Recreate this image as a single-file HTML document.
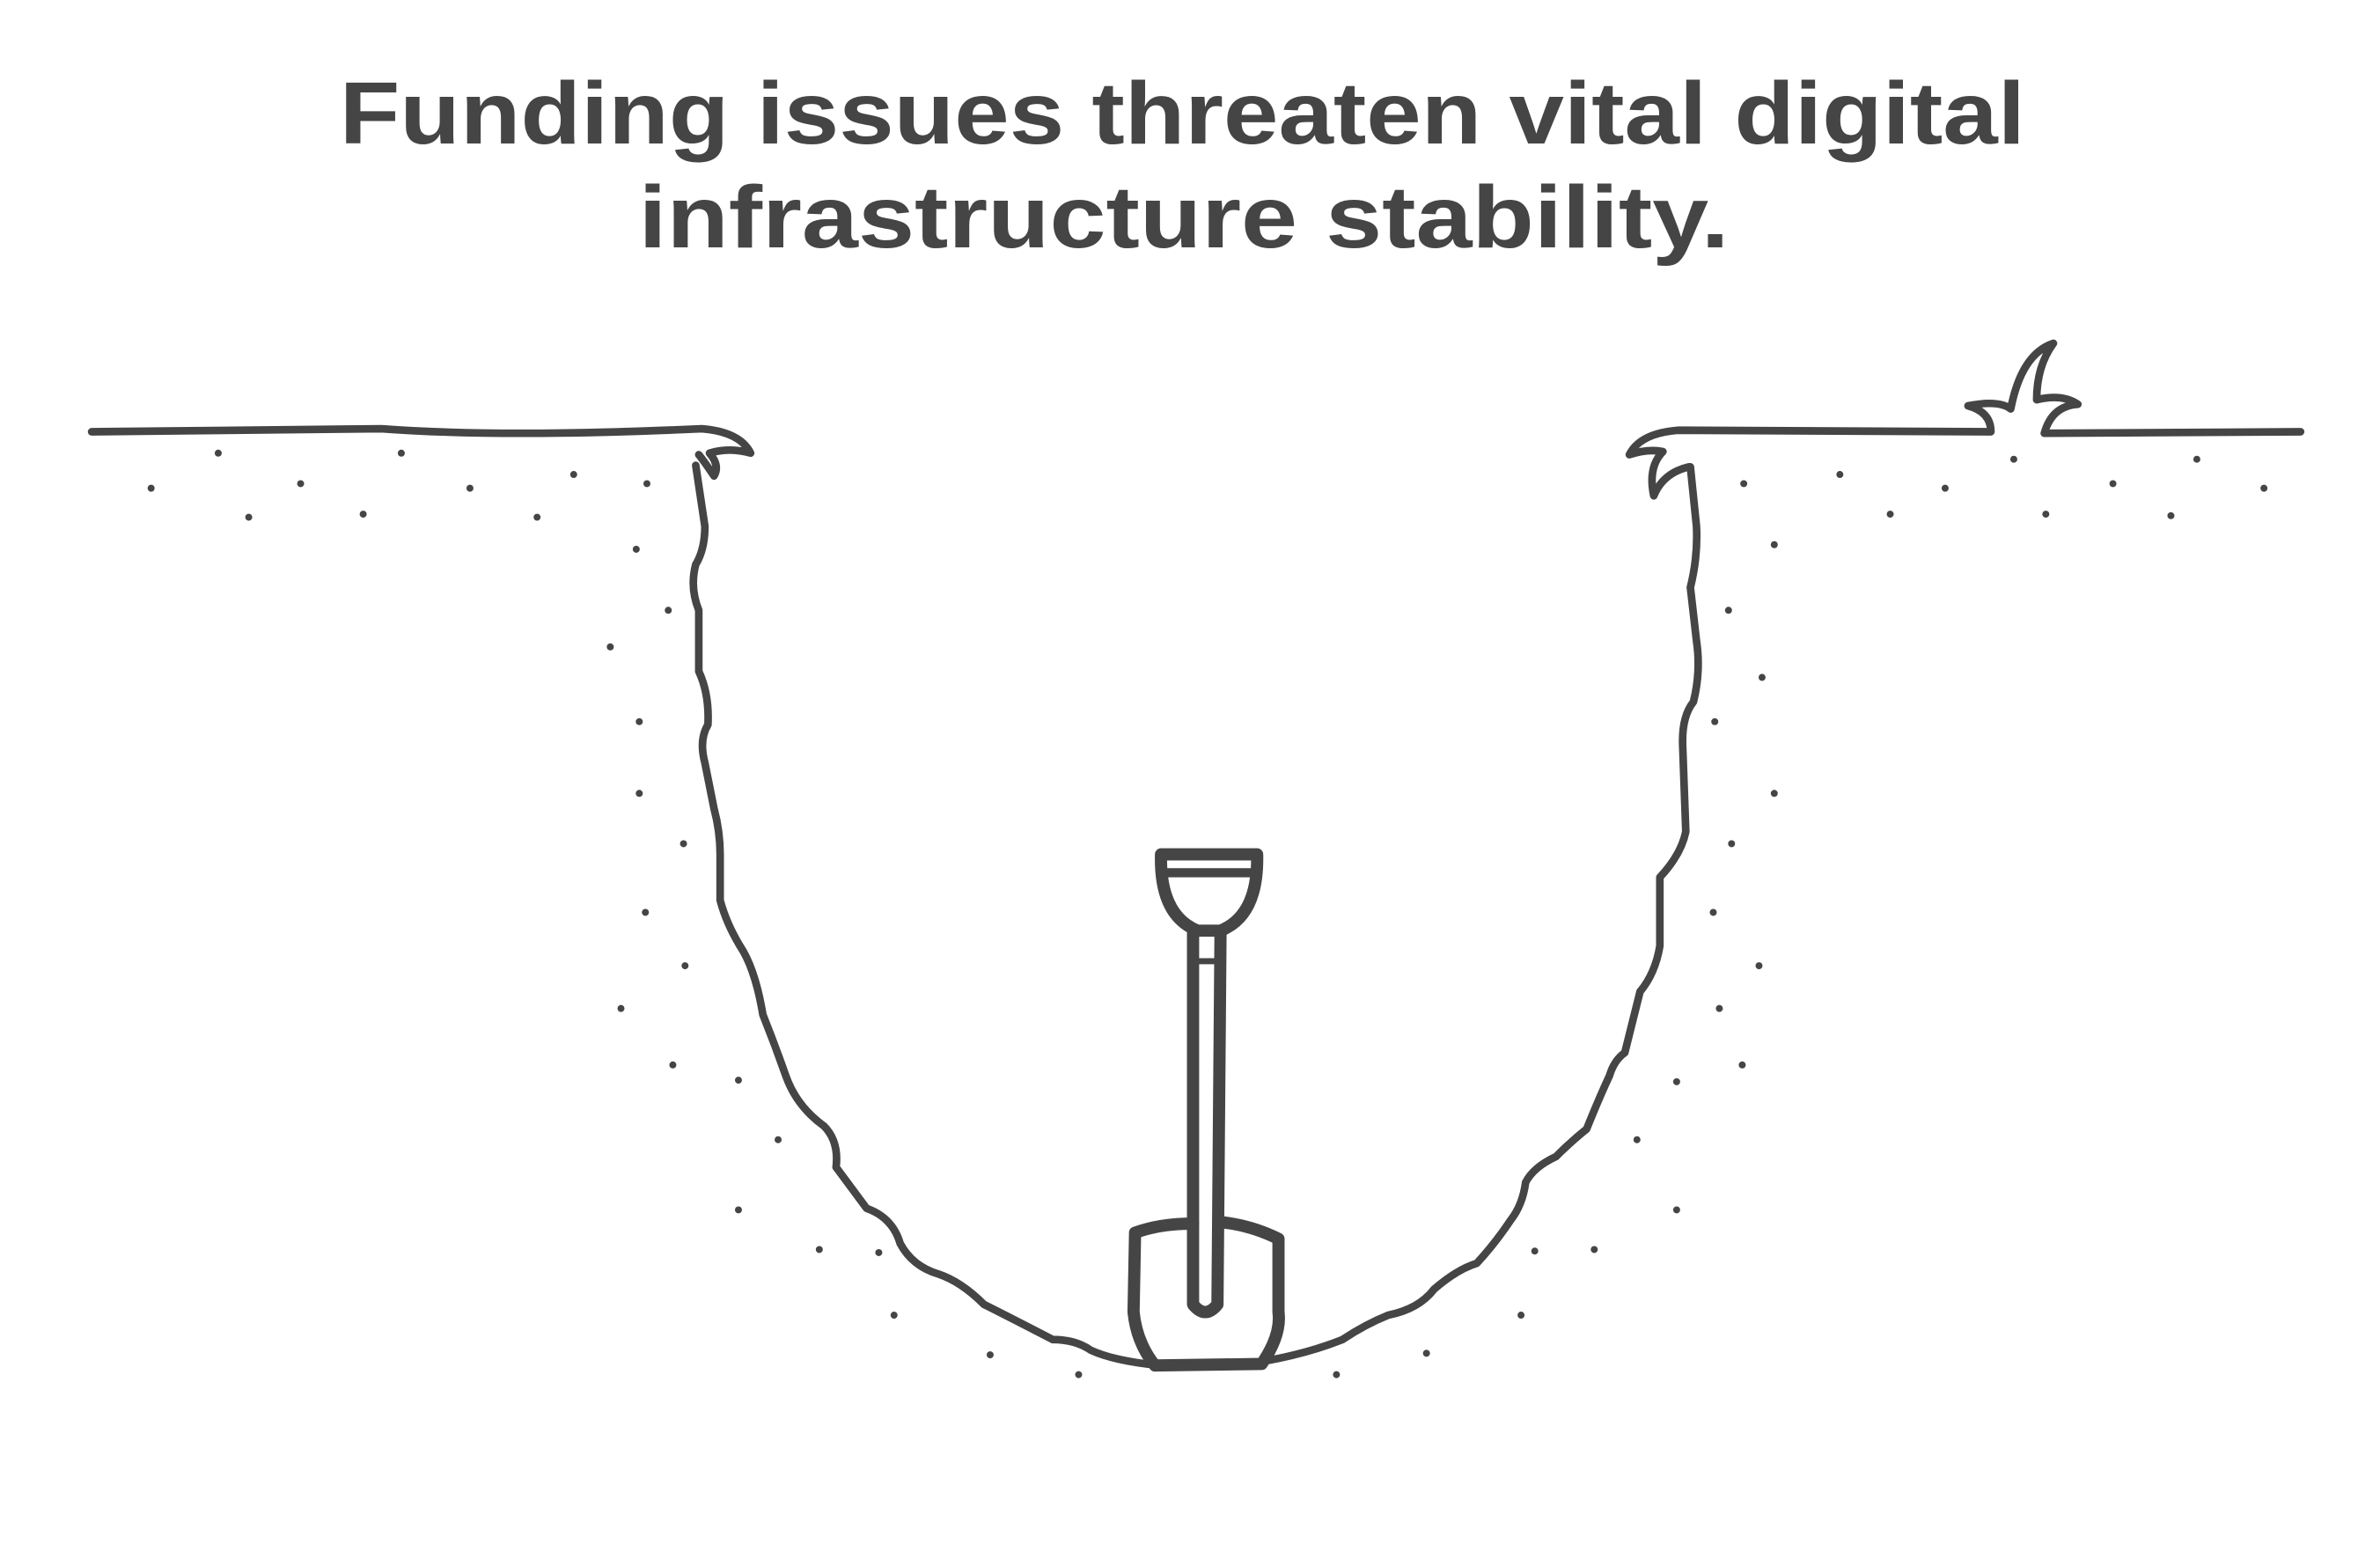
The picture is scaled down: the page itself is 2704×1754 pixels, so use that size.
<!DOCTYPE html>
<html><head><meta charset="utf-8"><style>
html,body{margin:0;padding:0;background:#fff;}
svg{display:block;}
</style></head><body>
<svg width="2704" height="1754" viewBox="0 0 1560 1012" xmlns="http://www.w3.org/2000/svg">
<rect width="1560" height="1012" fill="#fff"/>
<g font-family="Liberation Sans, sans-serif" font-weight="bold" font-size="58" fill="#454545" text-anchor="middle">
<text x="775" y="94" textLength="1105" lengthAdjust="spacingAndGlyphs">Funding issues threaten vital digital</text>
<text x="776" y="162" textLength="715" lengthAdjust="spacingAndGlyphs">infrastructure stability.</text>
</g>
<g fill="none" stroke="#454545" stroke-width="5" stroke-linecap="round" stroke-linejoin="round">
<path d="M60 283 L250 281 Q330 287 460 281 Q485 283 492 297 Q478 293 465 297 Q472 305 468 312 Q462 303 458 298"/>
<path d="M1508 283 L1340 284 Q1345 266 1362 265 Q1352 258 1335 262 Q1335 240 1346 225 Q1325 232 1318 268 Q1310 262 1290 266 Q1305 270 1305 283 L1100 282 Q1075 284 1068 298 Q1080 294 1090 296 Q1080 306 1084 325 Q1090 310 1107 306"/>
<path d="M456 305 L462 345 Q462 360 456 370 Q452 385 458 400 L458 440 Q465 455 464 475 Q458 485 462 500 L468 530 Q472 545 472 560 L472 590 Q476 605 485 620 Q495 635 500 665 Q508 685 515 705 Q522 725 540 738 Q550 748 548 765 L568 792 Q585 798 590 815 Q598 830 615 835 Q630 840 645 855 Q665 865 690 878 Q705 878 715 885 Q730 892 760 895 L810 895 Q850 890 880 878 Q895 868 910 862 Q930 858 940 845 Q955 832 968 828 Q980 815 990 800 Q998 790 1000 775 Q1005 765 1020 758 Q1030 748 1040 740 Q1048 720 1055 705 Q1058 695 1065 690 Q1070 670 1075 650 Q1085 638 1088 620 L1088 575 Q1102 560 1105 545 L1103 490 Q1102 470 1110 460 Q1115 440 1112 420 L1108 385 Q1113 365 1112 345 L1108 306"/>
<g stroke-width="8">
<path d="M761 560 L824 560 Q825 600 800 610 L785 610 Q760 600 761 560 Z"/>
<path d="M765 572 L820 572" stroke-width="6"/>
<path d="M782 612 L782 855 Q790 865 798 855 L800 612"/>
<path d="M785 630 L797 630" stroke-width="4"/>
<path d="M782 802 Q760 802 744 808 L743 860 Q745 880 757 895 L827 894 Q840 875 838 860 L838 812 Q820 803 800 801"/>
</g>
</g>
<g fill="#454545">
<circle cx="143" cy="297" r="2.3"/><circle cx="263" cy="297" r="2.3"/><circle cx="99" cy="320" r="2.3"/><circle cx="197" cy="317" r="2.3"/><circle cx="308" cy="320" r="2.3"/><circle cx="376" cy="311" r="2.3"/><circle cx="424" cy="317" r="2.3"/><circle cx="163" cy="339" r="2.3"/><circle cx="238" cy="337" r="2.3"/><circle cx="352" cy="339" r="2.3"/><circle cx="417" cy="360" r="2.3"/><circle cx="438" cy="400" r="2.3"/><circle cx="400" cy="424" r="2.3"/><circle cx="419" cy="473" r="2.3"/><circle cx="419" cy="520" r="2.3"/><circle cx="448" cy="553" r="2.3"/><circle cx="423" cy="598" r="2.3"/><circle cx="449" cy="633" r="2.3"/><circle cx="407" cy="661" r="2.3"/><circle cx="441" cy="698" r="2.3"/><circle cx="484" cy="708" r="2.3"/><circle cx="510" cy="747" r="2.3"/><circle cx="484" cy="793" r="2.3"/><circle cx="537" cy="819" r="2.3"/><circle cx="576" cy="821" r="2.3"/><circle cx="586" cy="862" r="2.3"/><circle cx="649" cy="888" r="2.3"/><circle cx="707" cy="901" r="2.3"/><circle cx="876" cy="901" r="2.3"/><circle cx="935" cy="887" r="2.3"/><circle cx="997" cy="862" r="2.3"/><circle cx="1006" cy="820" r="2.3"/><circle cx="1045" cy="819" r="2.3"/><circle cx="1099" cy="793" r="2.3"/><circle cx="1073" cy="747" r="2.3"/><circle cx="1099" cy="709" r="2.3"/><circle cx="1142" cy="698" r="2.3"/><circle cx="1127" cy="661" r="2.3"/><circle cx="1153" cy="633" r="2.3"/><circle cx="1123" cy="598" r="2.3"/><circle cx="1135" cy="553" r="2.3"/><circle cx="1163" cy="520" r="2.3"/><circle cx="1124" cy="473" r="2.3"/><circle cx="1155" cy="444" r="2.3"/><circle cx="1133" cy="400" r="2.3"/><circle cx="1163" cy="357" r="2.3"/><circle cx="1143" cy="317" r="2.3"/><circle cx="1206" cy="311" r="2.3"/><circle cx="1275" cy="320" r="2.3"/><circle cx="1320" cy="301" r="2.3"/><circle cx="1385" cy="317" r="2.3"/><circle cx="1440" cy="301" r="2.3"/><circle cx="1484" cy="320" r="2.3"/><circle cx="1239" cy="337" r="2.3"/><circle cx="1341" cy="337" r="2.3"/><circle cx="1423" cy="338" r="2.3"/>
</g>
</svg>
</body></html>
